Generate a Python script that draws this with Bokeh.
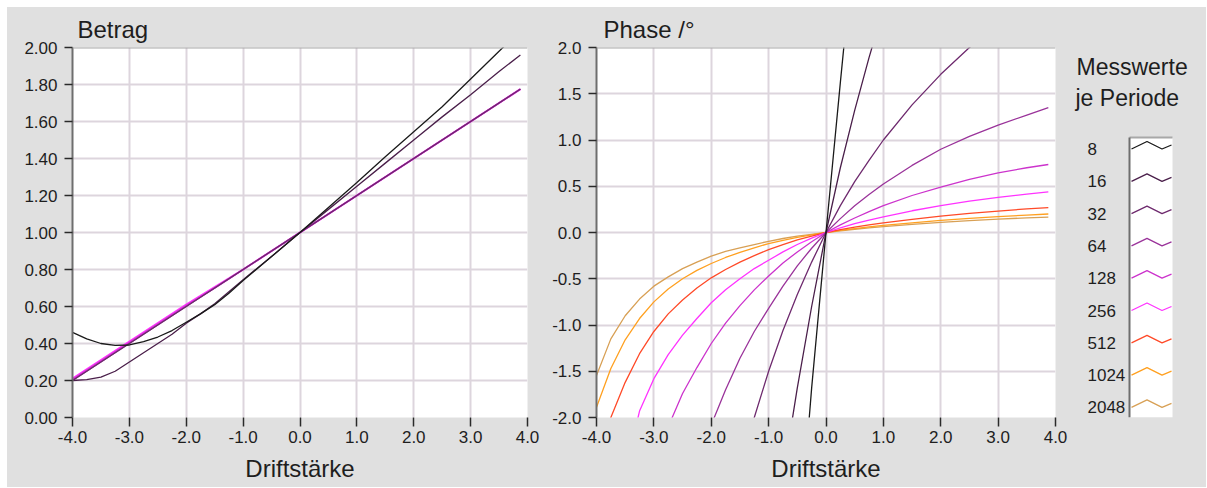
import numpy as np
from bokeh.plotting import figure
from bokeh.layouts import row, column, Spacer
from bokeh.models import Range1d, FixedTicker, PrintfTickFormatter, Span
from bokeh.embed import file_html
from bokeh.resources import INLINE
from bokeh.core.properties import value

nan = float("nan")

# ---------------- data ----------------
series_labels = ["8", "16", "32", "64", "128", "256", "512", "1024", "2048"]
series_colors = ["#1A1A1A", "#4A1F4A", "#6E2A6E", "#9A339A", "#CC33CC",
                 "#FF33FF", "#FF4A28", "#FFA020", "#D8A055"]

x_ticks = [-4, -3, -2, -1, 0, 1, 2, 3, 4]
betrag_ticks = [0.0, 0.2, 0.4, 0.6, 0.8, 1.0, 1.2, 1.4, 1.6, 1.8, 2.0]
phase_ticks = [-2.0, -1.5, -1.0, -0.5, 0.0, 0.5, 1.0, 1.5, 2.0]

# Betrag (magnitude)
x_betrag = [-4.0, -3.75, -3.5, -3.25, -3.0, -2.75, -2.5, -2.25, -2.0, -1.75, -1.5, -1.25,
            -1.0, -0.5, 0.0, 0.5, 1.0, 1.5, 2.0, 2.5, 3.0, 3.5, 3.875]
betrag_8 = [0.46, 0.425, 0.40, 0.39, 0.392, 0.41, 0.435, 0.47, 0.515, 0.56, 0.61, 0.672,
            0.74, 0.87, 1.0, 1.135, 1.27, 1.41, 1.545, 1.68, 1.83, 1.98, 2.09]
betrag_16 = [0.20, 0.205, 0.218, 0.25, 0.30, 0.35, 0.40, 0.45, 0.51, 0.56, 0.615, 0.68,
             0.745, 0.87, 1.0, 1.125, 1.25, 1.375, 1.5, 1.625, 1.745, 1.87, 1.96]
betrag_32 = [0.20, 0.25, 0.30, 0.35, 0.40, 0.45, 0.50, 0.55, 0.60, 0.65, 0.70, 0.75,
             0.80, 0.90, 1.00, 1.10, 1.20, 1.30, 1.40, 1.50, 1.60, 1.70, 1.775]
betrag_64 = [0.20, 0.25, 0.30, 0.35, 0.40, 0.45, 0.50, 0.55, 0.60, 0.65, 0.70, 0.75,
             0.80, 0.90, 1.00, 1.10, 1.20, 1.30, 1.40, 1.50, 1.60, 1.70, 1.775]
betrag_128 = [0.205, 0.255, 0.305, 0.355, 0.405, 0.455, 0.505, 0.555, 0.605, 0.652, 0.70,
              0.75, 0.80, 0.90, 1.00, 1.10, 1.20, 1.30, 1.40, 1.50, 1.60, 1.70, 1.775]
betrag_256 = [0.21, 0.26, 0.31, 0.36, 0.41, 0.46, 0.51, 0.56, 0.61, 0.657, 0.705, 0.752,
              0.80, 0.90, 1.00, 1.10, 1.20, 1.30, 1.40, 1.50, 1.60, 1.70, 1.775]

# Phase / degree
x_phase = [-4.0, -3.75, -3.5, -3.25, -3.0, -2.75, -2.5, -2.25, -2.0, -1.75, -1.5, -1.25,
           -1.0, -0.75, -0.5, -0.25, 0.0, 0.25, 0.5, 0.75, 1.0, 1.5, 2.0, 2.5, 3.0, 3.5, 3.875]
phase_8 = [nan, nan, nan, nan, nan, nan, nan, nan, nan, nan, nan, nan, nan, nan,
           -3.6, -1.68, 0.0, 1.62, 3.2, nan, nan, nan, nan, nan, nan, nan, nan]
phase_16 = [nan, nan, nan, nan, nan, nan, nan, nan, nan, nan, nan, nan, nan,
            -2.65, -1.68, -0.80, 0.0, 0.70, 1.32, 1.89, 2.42, nan, nan, nan, nan, nan, nan]
phase_32 = [nan, nan, nan, nan, nan, nan, nan, nan, nan, nan,
            -2.57, -2.0, -1.5, -1.06, -0.67, -0.32, 0.0, 0.29, 0.55, 0.78, 1.0, 1.38, 1.71,
            2.0, 2.25, nan, nan]
phase_64 = [nan, nan, nan, nan, nan, nan, nan,
            -2.58, -2.08, -1.70, -1.36, -1.07, -0.82, -0.58, -0.36, -0.17, 0.0, 0.15, 0.29,
            0.41, 0.525, 0.725, 0.90, 1.04, 1.16, 1.27, 1.35]
phase_128 = [nan, nan, nan, nan,
             -2.55, -2.10, -1.74, -1.46, -1.20, -0.98, -0.79, -0.62, -0.47, -0.33, -0.21,
             -0.10, 0.0, 0.082, 0.157, 0.225, 0.29, 0.40, 0.49, 0.575, 0.645, 0.70, 0.735]
phase_256 = [nan, nan,
             -2.6, -1.93, -1.58, -1.32, -1.11, -0.93, -0.76, -0.62, -0.50, -0.39, -0.30,
             -0.21, -0.13, -0.06, 0.0, 0.05, 0.095, 0.135, 0.17, 0.235, 0.29, 0.34, 0.38,
             0.415, 0.44]
phase_512 = [-2.7, -2.0, -1.62, -1.31, -1.07, -0.88, -0.73, -0.60, -0.49, -0.40, -0.32,
             -0.25, -0.185, -0.13, -0.08, -0.038, 0.0, 0.03, 0.057, 0.082, 0.103, 0.142,
             0.176, 0.206, 0.232, 0.255, 0.27]
phase_1024 = [-1.89, -1.47, -1.16, -0.93, -0.75, -0.61, -0.50, -0.41, -0.335, -0.27,
              -0.215, -0.165, -0.12, -0.085, -0.053, -0.025, 0.0, 0.022, 0.042, 0.06,
              0.076, 0.105, 0.13, 0.152, 0.172, 0.188, 0.20]
phase_2048 = [-1.545, -1.15, -0.90, -0.72, -0.58, -0.48, -0.39, -0.32, -0.255, -0.205,
              -0.165, -0.13, -0.095, -0.065, -0.04, -0.02, 0.0, 0.018, 0.035, 0.05,
              0.063, 0.088, 0.11, 0.128, 0.145, 0.158, 0.167]

betrag_series = [betrag_8, betrag_16, betrag_32, betrag_64, betrag_128, betrag_256]
phase_series = [phase_8, phase_16, phase_32, phase_64, phase_128, phase_256,
                phase_512, phase_1024, phase_2048]

# ---------------- style ----------------
FONT = "Liberation Sans"
PANEL = "#E0E0E0"
GRID = "#DDD5DD"
TEXT = "#1E1E1E"
PAD = 7             # white page border top/left
TOTAL_H = 480
TOP = 40
FRAME_H = 370
BOTTOM = TOTAL_H - TOP - FRAME_H


def make_plot(title, y_range, y_ticks, y_fmt, left_border, frame_w, right_border, title_offset):
    p = figure(output_backend="svg", toolbar_location=None,
               width=left_border + frame_w + right_border, height=TOTAL_H,
               min_border_left=left_border, min_border_right=right_border,
               min_border_top=TOP, min_border_bottom=BOTTOM,
               x_range=Range1d(-4, 4), y_range=y_range)
    p.background_fill_color = "white"
    p.border_fill_color = PANEL
    p.outline_line_color = None

    p.title.text = title
    p.title.text_font = FONT
    p.title.text_font_size = "24px"
    p.title.text_font_style = "normal"
    p.title.text_color = TEXT
    p.title.align = "left"
    p.title.offset = title_offset
    p.title.standoff = 10

    p.xaxis.ticker = FixedTicker(ticks=x_ticks)
    p.yaxis.ticker = FixedTicker(ticks=y_ticks)
    p.xaxis.formatter = PrintfTickFormatter(format="%.1f")
    p.yaxis.formatter = PrintfTickFormatter(format=y_fmt)
    for ax in (p.xaxis[0], p.yaxis[0]):
        ax.major_label_text_font = FONT
        ax.major_label_text_font_size = "17px"
        ax.major_label_text_color = TEXT
        ax.major_tick_in = 0
        ax.minor_tick_in = 0
        ax.minor_tick_out = 0
        ax.major_tick_line_color = "#2A2A2A"
    p.xaxis.major_tick_out = 9
    p.xaxis.major_tick_line_width = 1.5
    p.xaxis.major_label_standoff = 4
    p.yaxis.major_tick_out = 8
    p.yaxis.major_tick_line_width = 1.5
    p.yaxis.major_label_standoff = 7
    p.xaxis.axis_line_color = None
    p.yaxis.axis_line_color = "#6E6E6E"
    p.yaxis.axis_line_width = 2
    p.xaxis.axis_label = "Driftstärke"
    p.xaxis.axis_label_text_font = FONT
    p.xaxis.axis_label_text_font_size = "24px"
    p.xaxis.axis_label_text_font_style = "normal"
    p.xaxis.axis_label_text_color = TEXT
    p.xaxis.axis_label_standoff = 9

    p.grid.grid_line_color = GRID
    p.grid.grid_line_width = 2
    p.add_layout(Span(location=y_range.end, dimension="width",
                      line_color="#A8A8A8", line_width=2))
    return p


p1 = make_plot("Betrag", Range1d(0, 2), betrag_ticks, "%.2f", 65, 455, 21, 5)
p2 = make_plot("Phase /°", Range1d(-2, 2), phase_ticks, "%.1f", 48, 459, 13, 7)

# Betrag: draw higher counts first so low counts are on top
betrag_widths = [1.3, 1.3, 1.1, 1.3, 1.6, 2.0]
for i in reversed(range(len(betrag_series))):
    p1.line(np.array(x_betrag, dtype=float), np.array(betrag_series[i], dtype=float),
            line_color=series_colors[i], line_width=betrag_widths[i])

for i in reversed(range(len(phase_series))):
    p2.line(np.array(x_phase, dtype=float), np.array(phase_series[i], dtype=float),
            line_color=series_colors[i], line_width=1.3)

# ---------------- legend panel (data units = page pixels) ----------------
LX0, LX1 = 1068, 1206
LY0, LY1 = PAD + TOP, PAD + TOP + FRAME_H   # frame is aligned with the plots' frames
pl = figure(output_backend="svg", toolbar_location=None,
            width=LX1 - LX0, height=TOTAL_H,
            min_border_left=0, min_border_right=0,
            min_border_top=TOP, min_border_bottom=BOTTOM,
            x_range=Range1d(LX0, LX1), y_range=Range1d(LY1, LY0),
            x_axis_location=None, y_axis_location=None)
pl.background_fill_color = PANEL
pl.border_fill_color = PANEL
pl.outline_line_color = None
pl.grid.visible = False

pl.text(x=[1076, 1075], y=[66, 97], text=["Messwerte", "je Periode"],
        text_font=value(FONT), text_font_size="23px", text_color=TEXT,
        text_baseline="middle", text_align="left")

box_l, box_r, box_t, box_b = 1129, 1172, 137, 417
pl.quad(left=[box_l], right=[box_r], top=[box_t], bottom=[box_b],
        fill_color="white", line_color=None)
pl.line([box_l, box_r], [box_t, box_t], line_color="#A8A8A8", line_width=2)
pl.line([box_l, box_l], [box_t, box_b], line_color="#6E6E6E", line_width=2)

row0, row_step = 148.5, 32.3
row_y = [row0 + row_step * i for i in range(len(series_labels))]
pl.text(x=[1087] * len(series_labels), y=row_y, text=series_labels,
        text_font=value(FONT), text_font_size="17px", text_color=TEXT,
        text_baseline="middle", text_align="left")
for i, yc in enumerate(row_y):
    pl.line([1131, 1146.5, 1161.5, 1171], [yc, yc - 7.5, yc, yc - 4],
            line_color=series_colors[i], line_width=1.3)

charts = row(p1, p2, pl, spacing=0, styles={"background-color": PANEL})
layout = column(Spacer(height=PAD, width=10),
                row(Spacer(width=PAD, height=10), charts, spacing=0),
                spacing=0)
open("out.html", "w").write(file_html(layout, INLINE))
